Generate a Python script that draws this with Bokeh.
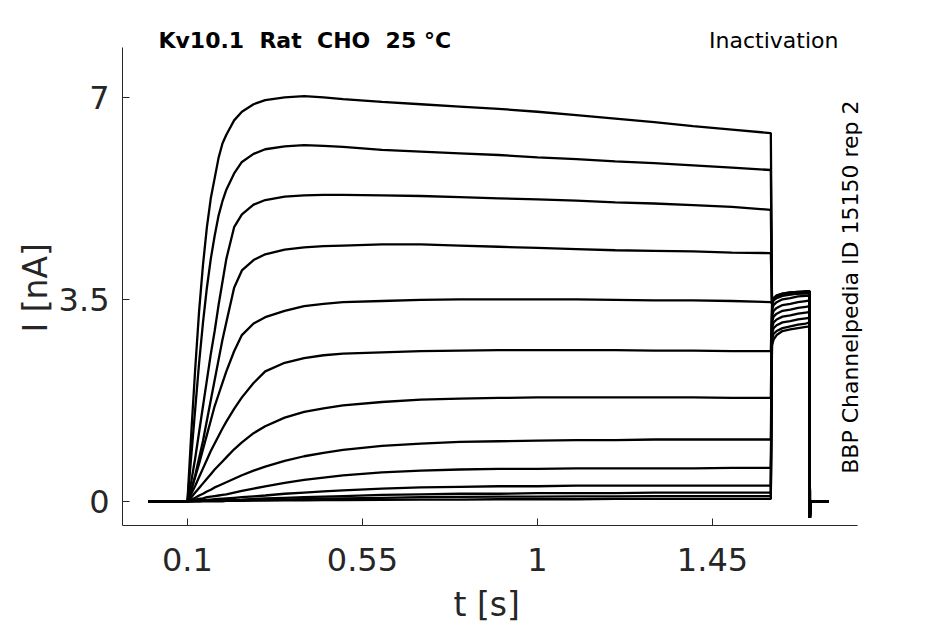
import math
from bokeh.plotting import figure
from bokeh.models import FixedTicker, Label, Range1d, Title
from bokeh.embed import file_html
from bokeh.resources import INLINE

# ---------------- data ----------------
title_left = "Kv10.1\u00a0\u00a0Rat\u00a0\u00a0CHO\u00a0\u00a025\u00a0°C"
title_right = "Inactivation"
side_note = "BBP Channelpedia ID 15150 rep 2"
x_label = "t [s]"
y_label = "I [nA]"

x_tick_vals = [0.1, 0.55, 1.0, 1.45]
x_tick_labels = ["0.1", "0.55", "1", "1.45"]
y_tick_vals = [0.0, 3.5, 7.0]
y_tick_labels = ["0", "3.5", "7"]

# holding before the step (nA = 0)
t_pre = [0.0, 0.1]
# during the conditioning step
t_step = [0.10, 0.11, 0.12, 0.13, 0.14, 0.15, 0.16, 0.17, 0.18, 0.19, 0.20,
          0.22, 0.24, 0.27, 0.30, 0.35, 0.40, 0.45, 0.50, 0.60, 0.70, 0.80,
          0.90, 1.00, 1.10, 1.20, 1.30, 1.40, 1.50, 1.60]
i_step = [
    [0, 1.2, 2.3, 3.3, 4.1, 4.75, 5.25, 5.6, 5.95, 6.2, 6.35, 6.6, 6.75, 6.88, 6.95, 7.0, 7.02, 7.0, 6.97, 6.92, 6.88, 6.84, 6.8, 6.75, 6.69, 6.63, 6.57, 6.5, 6.44, 6.38],
    [0, 0.8, 1.6, 2.4, 3.1, 3.7, 4.2, 4.6, 4.95, 5.2, 5.4, 5.68, 5.88, 6.02, 6.1, 6.15, 6.17, 6.16, 6.14, 6.09, 6.06, 6.03, 6.0, 5.96, 5.93, 5.89, 5.86, 5.82, 5.78, 5.74],
    [0, 0.35, 0.75, 1.2, 1.65, 2.1, 2.55, 2.95, 3.4, 3.8, 4.2, 4.75, 4.97, 5.14, 5.22, 5.28, 5.3, 5.31, 5.31, 5.3, 5.29, 5.27, 5.25, 5.23, 5.21, 5.18, 5.16, 5.13, 5.1, 5.05],
    [0, 0.2, 0.45, 0.75, 1.05, 1.4, 1.75, 2.1, 2.45, 2.8, 3.1, 3.7, 4.0, 4.18, 4.28, 4.36, 4.4, 4.42, 4.43, 4.45, 4.45, 4.43, 4.41, 4.39, 4.37, 4.35, 4.34, 4.33, 4.31, 4.3],
    [0, 0.2, 0.42, 0.65, 0.9, 1.15, 1.4, 1.65, 1.85, 2.05, 2.25, 2.6, 2.88, 3.08, 3.19, 3.3, 3.38, 3.42, 3.45, 3.47, 3.49, 3.5, 3.5, 3.5, 3.5, 3.49, 3.48, 3.48, 3.47, 3.45],
    [0, 0.13, 0.27, 0.42, 0.57, 0.72, 0.87, 1.0, 1.13, 1.26, 1.38, 1.6, 1.8, 2.05, 2.25, 2.4, 2.48, 2.53, 2.56, 2.58, 2.6, 2.61, 2.62, 2.62, 2.62, 2.62, 2.61, 2.61, 2.6, 2.6],
    [0, 0.07, 0.15, 0.23, 0.31, 0.39, 0.47, 0.55, 0.62, 0.69, 0.76, 0.9, 1.02, 1.18, 1.3, 1.45, 1.55, 1.61, 1.66, 1.72, 1.76, 1.78, 1.79, 1.8, 1.8, 1.8, 1.8, 1.8, 1.79, 1.79],
    [0, 0.03, 0.06, 0.1, 0.13, 0.17, 0.2, 0.24, 0.27, 0.3, 0.33, 0.39, 0.45, 0.53, 0.6, 0.7, 0.78, 0.84, 0.89, 0.96, 1.0, 1.03, 1.04, 1.05, 1.06, 1.06, 1.07, 1.07, 1.07, 1.07],
    [0, 0.01, 0.03, 0.04, 0.05, 0.07, 0.08, 0.09, 0.1, 0.11, 0.12, 0.15, 0.18, 0.22, 0.26, 0.32, 0.37, 0.41, 0.45, 0.5, 0.53, 0.55, 0.56, 0.56, 0.57, 0.57, 0.57, 0.57, 0.58, 0.58],
    [0, 0.005, 0.01, 0.015, 0.02, 0.025, 0.03, 0.035, 0.04, 0.045, 0.05, 0.06, 0.07, 0.085, 0.1, 0.13, 0.15, 0.17, 0.19, 0.22, 0.24, 0.25, 0.26, 0.26, 0.27, 0.27, 0.27, 0.27, 0.27, 0.27],
    [0, 0, 0.005, 0.005, 0.01, 0.01, 0.015, 0.015, 0.02, 0.02, 0.02, 0.025, 0.03, 0.04, 0.05, 0.06, 0.07, 0.08, 0.09, 0.11, 0.12, 0.13, 0.13, 0.14, 0.14, 0.14, 0.15, 0.15, 0.15, 0.15],
    [0, 0, 0, 0, 0.005, 0.005, 0.005, 0.01, 0.01, 0.01, 0.01, 0.015, 0.015, 0.02, 0.025, 0.03, 0.04, 0.045, 0.05, 0.06, 0.07, 0.075, 0.08, 0.08, 0.085, 0.085, 0.09, 0.09, 0.09, 0.09],
    [0, 0, 0, 0, 0, 0, 0, 0, 0, 0, 0.005, 0.005, 0.005, 0.01, 0.01, 0.015, 0.015, 0.02, 0.02, 0.025, 0.03, 0.03, 0.035, 0.035, 0.035, 0.04, 0.04, 0.04, 0.04, 0.04],
]
# test pulse (tail)
t_tail = [1.603, 1.607, 1.615, 1.63, 1.65, 1.67, 1.69, 1.70]
i_tail = [
    [3.45, 3.52, 3.57, 3.6, 3.62, 3.63, 3.64, 3.64],
    [3.45, 3.51, 3.56, 3.6, 3.62, 3.63, 3.63, 3.64],
    [3.44, 3.5, 3.55, 3.59, 3.61, 3.62, 3.63, 3.63],
    [3.43, 3.5, 3.55, 3.58, 3.6, 3.61, 3.62, 3.62],
    [3.42, 3.49, 3.54, 3.57, 3.59, 3.6, 3.61, 3.61],
    [3.4, 3.48, 3.52, 3.56, 3.58, 3.6, 3.6, 3.6],
    [3.3, 3.4, 3.45, 3.5, 3.52, 3.55, 3.56, 3.56],
    [3.2, 3.3, 3.35, 3.4, 3.42, 3.45, 3.47, 3.48],
    [3.1, 3.2, 3.25, 3.3, 3.32, 3.35, 3.37, 3.38],
    [3.0, 3.1, 3.15, 3.2, 3.22, 3.25, 3.27, 3.28],
    [2.9, 3.0, 3.05, 3.1, 3.12, 3.15, 3.17, 3.18],
    [2.8, 2.9, 2.95, 3.0, 3.03, 3.06, 3.08, 3.1],
    [2.7, 2.8, 2.88, 2.95, 2.98, 3.0, 3.02, 3.03],
]
# return to holding
t_post = [1.7005, 1.702, 1.748]
i_post = [-0.29, 0.0, 0.0]

# axis extents (the visible axis box)
x_axis_extent = (-0.067, 1.823)
y_axis_extent = (-0.42, 7.87)

# ---------------- figure ----------------
AX = "#262626"
FONT = "DejaVu Sans"

# frame is extended a little above/right so texts there are not clipped;
# axis lines are limited to the axis box with `bounds`
p = figure(frame_width=744, frame_height=499,
           min_border_left=122, min_border_top=26, min_border_right=40, min_border_bottom=60,
           x_range=Range1d(-0.067, 1.846), y_range=Range1d(-0.42, 8.227),
           output_backend="svg", toolbar_location=None, tools="")
p.background_fill_color = "white"
p.border_fill_color = "white"
p.outline_line_color = None
p.grid.visible = False

for k in range(len(i_step)):
    xs = t_pre + t_step + t_tail + t_post
    ys = [0.0, 0.0] + i_step[k] + i_tail[k] + i_post
    p.line(xs, ys, line_color="black", line_width=2.3)

for ax in (p.xaxis[0], p.yaxis[0]):
    ax.axis_line_color = AX
    ax.axis_line_width = 1
    ax.major_tick_line_color = AX
    ax.major_tick_in = 7
    ax.major_tick_out = 0
    ax.minor_tick_line_color = None
    ax.major_label_text_color = AX
    ax.major_label_text_font = FONT
    ax.major_label_text_font_size = "32px"

p.xaxis.bounds = x_axis_extent
p.yaxis.bounds = y_axis_extent
p.xaxis.ticker = FixedTicker(ticks=x_tick_vals)
p.xaxis.major_label_overrides = dict(zip(x_tick_vals, x_tick_labels))
p.yaxis.ticker = FixedTicker(ticks=y_tick_vals)
p.yaxis.major_label_overrides = dict(zip(y_tick_vals, y_tick_labels))
p.xaxis.major_label_standoff = 22
p.yaxis.major_label_standoff = 13

# axis labels as side titles so that they are centred on the axis box, not the frame
p.add_layout(Title(text=y_label, align="left", offset=193, standoff=0,
                   vertical_align="middle", text_font=FONT, text_font_size="33px",
                   text_font_style="normal", text_color=AX), "left")
p.add_layout(Title(text=x_label, align="left", offset=331, standoff=20,
                   vertical_align="middle", text_font=FONT, text_font_size="33px",
                   text_font_style="normal", text_color=AX), "below")

p.add_layout(Label(x=0.0254, y=7.99, text=title_left, text_font=FONT,
                   text_font_size="22px", text_font_style="bold", text_color="black",
                   text_align="left", text_baseline="middle"))
p.add_layout(Label(x=1.774, y=7.99, text=title_right, text_font=FONT,
                   text_font_size="22px", text_color="black",
                   text_align="right", text_baseline="middle"))
p.add_layout(Label(x=1.805, y=3.71, text=side_note, text_font=FONT,
                   text_font_size="22px", text_color="black", angle=math.pi / 2,
                   text_align="center", text_baseline="middle"))

open("out.html", "w").write(file_html(p, INLINE))
